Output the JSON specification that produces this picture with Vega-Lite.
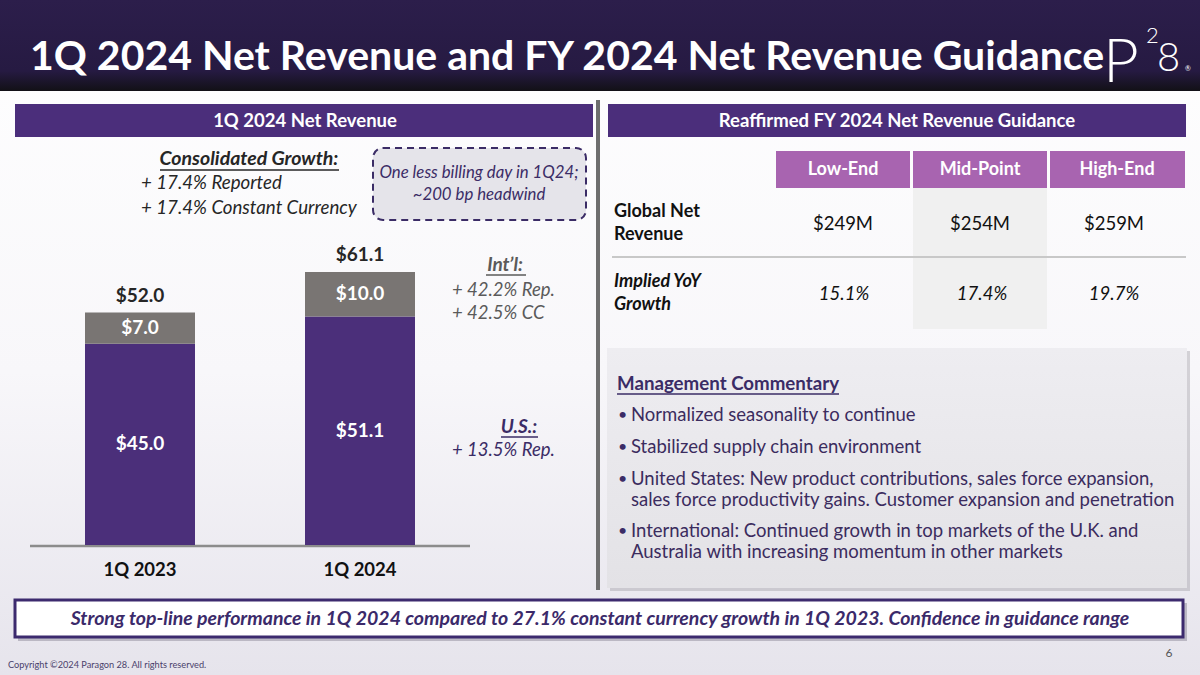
{
  "$schema": "https://vega.github.io/schema/vega-lite/v6.json",
  "width": 1200,
  "height": 675,
  "autosize": {"type": "fit", "contains": "padding"},
  "padding": 0,
  "background": "#ffffff",
  "config": {"view": {"stroke": null}, "font": "Lato"},
  "data": {"values": [{}]},
  "resolve": {"scale": {"x": "independent", "y": "independent", "color": "independent"}},
  "layer": [
    {
      "layer": [
        {"mark": {"type": "rect", "color": {"gradient": "linear", "x1": 0, "y1": 0, "x2": 0, "y2": 1, "stops": [{"offset": 0, "color": "#ffffff"}, {"offset": 0.55, "color": "#f8f7fa"}, {"offset": 1, "color": "#e6e4ec"}]}},
         "encoding": {"x": {"datum": 0, "type": "quantitative", "scale": {"domain": [0, 1200], "nice": false, "zero": false}, "axis": null}, "x2": {"datum": 1200}, "y": {"datum": 0, "type": "quantitative", "scale": {"domain": [0, 675], "nice": false, "zero": false, "reverse": true}, "axis": null}, "y2": {"datum": 675}}},
        {"mark": {"type": "rect", "color": {"gradient": "linear", "x1": 0, "y1": 0, "x2": 0, "y2": 1, "stops": [{"offset": 0, "color": "#2c1e4b"}, {"offset": 0.78, "color": "#261a42"}, {"offset": 1, "color": "#121016"}]}},
         "encoding": {"x": {"datum": 0, "type": "quantitative", "scale": {"domain": [0, 1200], "nice": false, "zero": false}, "axis": null}, "x2": {"datum": 1200}, "y": {"datum": 0, "type": "quantitative", "scale": {"domain": [0, 675], "nice": false, "zero": false, "reverse": true}, "axis": null}, "y2": {"datum": 91}}},
        {"mark": {"type": "text", "text": "1Q 2024 Net Revenue and FY 2024 Net Revenue Guidance", "font": "Lato", "fontSize": 41, "fontWeight": "bold", "color": "#ffffff", "align": "left", "baseline": "alphabetic"},
         "encoding": {"x": {"datum": 30, "type": "quantitative", "scale": {"domain": [0, 1200], "nice": false, "zero": false}, "axis": null}, "y": {"datum": 70, "type": "quantitative", "scale": {"domain": [0, 675], "nice": false, "zero": false, "reverse": true}, "axis": null}}},
        {"mark": {"type": "text", "text": "P", "font": "Lato", "fontSize": 62, "fontWeight": 300, "color": "#ffffff", "align": "left", "baseline": "alphabetic"},
         "encoding": {"x": {"datum": 1103, "type": "quantitative", "scale": {"domain": [0, 1200], "nice": false, "zero": false}, "axis": null}, "y": {"datum": 82, "type": "quantitative", "scale": {"domain": [0, 675], "nice": false, "zero": false, "reverse": true}, "axis": null}}},
        {"mark": {"type": "text", "text": "2", "font": "Lato", "fontSize": 22, "fontWeight": 300, "color": "#ffffff", "align": "left", "baseline": "alphabetic"},
         "encoding": {"x": {"datum": 1146, "type": "quantitative", "scale": {"domain": [0, 1200], "nice": false, "zero": false}, "axis": null}, "y": {"datum": 43, "type": "quantitative", "scale": {"domain": [0, 675], "nice": false, "zero": false, "reverse": true}, "axis": null}}},
        {"mark": {"type": "text", "text": "8", "font": "Lato", "fontSize": 40, "fontWeight": 300, "color": "#ffffff", "align": "left", "baseline": "alphabetic"},
         "encoding": {"x": {"datum": 1157, "type": "quantitative", "scale": {"domain": [0, 1200], "nice": false, "zero": false}, "axis": null}, "y": {"datum": 71, "type": "quantitative", "scale": {"domain": [0, 675], "nice": false, "zero": false, "reverse": true}, "axis": null}}},
        {"mark": {"type": "text", "text": "®", "font": "Lato", "fontSize": 7, "color": "#ffffff", "align": "left", "baseline": "alphabetic"},
         "encoding": {"x": {"datum": 1185, "type": "quantitative", "scale": {"domain": [0, 1200], "nice": false, "zero": false}, "axis": null}, "y": {"datum": 71, "type": "quantitative", "scale": {"domain": [0, 675], "nice": false, "zero": false, "reverse": true}, "axis": null}}},

        {"mark": {"type": "rect", "color": "#4b2e7b"},
         "encoding": {"x": {"datum": 15, "type": "quantitative", "scale": {"domain": [0, 1200], "nice": false, "zero": false}, "axis": null}, "x2": {"datum": 593}, "y": {"datum": 104, "type": "quantitative", "scale": {"domain": [0, 675], "nice": false, "zero": false, "reverse": true}, "axis": null}, "y2": {"datum": 137}}},
        {"mark": {"type": "rect", "color": "#4b2e7b"},
         "encoding": {"x": {"datum": 608, "type": "quantitative", "scale": {"domain": [0, 1200], "nice": false, "zero": false}, "axis": null}, "x2": {"datum": 1186}, "y": {"datum": 104, "type": "quantitative", "scale": {"domain": [0, 675], "nice": false, "zero": false, "reverse": true}, "axis": null}, "y2": {"datum": 137}}},
        {"mark": {"type": "text", "text": "1Q 2024 Net Revenue", "font": "Lato", "fontSize": 18.5, "fontWeight": "bold", "color": "#ffffff", "align": "center", "baseline": "middle"},
         "encoding": {"x": {"datum": 305, "type": "quantitative", "scale": {"domain": [0, 1200], "nice": false, "zero": false}, "axis": null}, "y": {"datum": 121, "type": "quantitative", "scale": {"domain": [0, 675], "nice": false, "zero": false, "reverse": true}, "axis": null}}},
        {"mark": {"type": "text", "text": "Reaffirmed FY 2024 Net Revenue Guidance", "font": "Lato", "fontSize": 18.5, "fontWeight": "bold", "color": "#ffffff", "align": "center", "baseline": "middle"},
         "encoding": {"x": {"datum": 897, "type": "quantitative", "scale": {"domain": [0, 1200], "nice": false, "zero": false}, "axis": null}, "y": {"datum": 121, "type": "quantitative", "scale": {"domain": [0, 675], "nice": false, "zero": false, "reverse": true}, "axis": null}}},
        {"mark": {"type": "rule", "color": "#6e6e6e", "strokeWidth": 4},
         "encoding": {"x": {"datum": 598, "type": "quantitative", "scale": {"domain": [0, 1200], "nice": false, "zero": false}, "axis": null}, "y": {"datum": 100, "type": "quantitative", "scale": {"domain": [0, 675], "nice": false, "zero": false, "reverse": true}, "axis": null}, "y2": {"datum": 590}}},

        {"mark": {"type": "text", "text": "Consolidated Growth:", "font": "Lato", "fontSize": 19.5, "fontWeight": "bold", "fontStyle": "italic", "color": "#262626", "align": "center", "baseline": "middle"},
         "encoding": {"x": {"datum": 249, "type": "quantitative", "scale": {"domain": [0, 1200], "nice": false, "zero": false}, "axis": null}, "y": {"datum": 159, "type": "quantitative", "scale": {"domain": [0, 675], "nice": false, "zero": false, "reverse": true}, "axis": null}}},
        {"mark": {"type": "rule", "color": "#262626", "strokeWidth": 1.5},
         "encoding": {"x": {"datum": 160, "type": "quantitative", "scale": {"domain": [0, 1200], "nice": false, "zero": false}, "axis": null}, "x2": {"datum": 339}, "y": {"datum": 170, "type": "quantitative", "scale": {"domain": [0, 675], "nice": false, "zero": false, "reverse": true}, "axis": null}}},
        {"mark": {"type": "text", "text": ["+ 17.4% Reported", "+ 17.4% Constant Currency"], "lineHeight": 25, "font": "Lato", "fontSize": 18.7, "fontStyle": "italic", "color": "#262626", "align": "left", "baseline": "middle"},
         "encoding": {"x": {"datum": 141, "type": "quantitative", "scale": {"domain": [0, 1200], "nice": false, "zero": false}, "axis": null}, "y": {"datum": 183, "type": "quantitative", "scale": {"domain": [0, 675], "nice": false, "zero": false, "reverse": true}, "axis": null}}},
        {"mark": {"type": "rect", "color": "#e5e4ea", "stroke": "#3b2c66", "strokeWidth": 2, "strokeDash": [7, 5], "cornerRadius": 10},
         "encoding": {"x": {"datum": 373, "type": "quantitative", "scale": {"domain": [0, 1200], "nice": false, "zero": false}, "axis": null}, "x2": {"datum": 586}, "y": {"datum": 148, "type": "quantitative", "scale": {"domain": [0, 675], "nice": false, "zero": false, "reverse": true}, "axis": null}, "y2": {"datum": 220}}},
        {"mark": {"type": "text", "text": ["One less billing day in 1Q24;", "~200 bp headwind"], "lineHeight": 22, "font": "Lato", "fontSize": 16.8, "fontStyle": "italic", "color": "#3b2c66", "align": "center", "baseline": "middle"},
         "encoding": {"x": {"datum": 479, "type": "quantitative", "scale": {"domain": [0, 1200], "nice": false, "zero": false}, "axis": null}, "y": {"datum": 173, "type": "quantitative", "scale": {"domain": [0, 675], "nice": false, "zero": false, "reverse": true}, "axis": null}}},

        {"mark": {"type": "text", "text": "Int’l:", "font": "Lato", "fontSize": 19, "fontWeight": "bold", "fontStyle": "italic", "color": "#5a5a5a", "align": "center", "baseline": "middle"},
         "encoding": {"x": {"datum": 505, "type": "quantitative", "scale": {"domain": [0, 1200], "nice": false, "zero": false}, "axis": null}, "y": {"datum": 265, "type": "quantitative", "scale": {"domain": [0, 675], "nice": false, "zero": false, "reverse": true}, "axis": null}}},
        {"mark": {"type": "rule", "color": "#5a5a5a", "strokeWidth": 1.5},
         "encoding": {"x": {"datum": 486, "type": "quantitative", "scale": {"domain": [0, 1200], "nice": false, "zero": false}, "axis": null}, "x2": {"datum": 526}, "y": {"datum": 275, "type": "quantitative", "scale": {"domain": [0, 675], "nice": false, "zero": false, "reverse": true}, "axis": null}}},
        {"mark": {"type": "text", "text": ["+ 42.2% Rep.", "+ 42.5% CC"], "lineHeight": 23, "font": "Lato", "fontSize": 18.5, "fontStyle": "italic", "color": "#5a5a5a", "align": "left", "baseline": "middle"},
         "encoding": {"x": {"datum": 452, "type": "quantitative", "scale": {"domain": [0, 1200], "nice": false, "zero": false}, "axis": null}, "y": {"datum": 290, "type": "quantitative", "scale": {"domain": [0, 675], "nice": false, "zero": false, "reverse": true}, "axis": null}}},
        {"mark": {"type": "text", "text": "U.S.:", "font": "Lato", "fontSize": 19, "fontWeight": "bold", "fontStyle": "italic", "color": "#3b2c66", "align": "center", "baseline": "middle"},
         "encoding": {"x": {"datum": 519, "type": "quantitative", "scale": {"domain": [0, 1200], "nice": false, "zero": false}, "axis": null}, "y": {"datum": 427, "type": "quantitative", "scale": {"domain": [0, 675], "nice": false, "zero": false, "reverse": true}, "axis": null}}},
        {"mark": {"type": "rule", "color": "#3b2c66", "strokeWidth": 1.5},
         "encoding": {"x": {"datum": 501, "type": "quantitative", "scale": {"domain": [0, 1200], "nice": false, "zero": false}, "axis": null}, "x2": {"datum": 538}, "y": {"datum": 437, "type": "quantitative", "scale": {"domain": [0, 675], "nice": false, "zero": false, "reverse": true}, "axis": null}}},
        {"mark": {"type": "text", "text": "+ 13.5% Rep.", "font": "Lato", "fontSize": 18.5, "fontStyle": "italic", "color": "#3b2c66", "align": "left", "baseline": "middle"},
         "encoding": {"x": {"datum": 452, "type": "quantitative", "scale": {"domain": [0, 1200], "nice": false, "zero": false}, "axis": null}, "y": {"datum": 450, "type": "quantitative", "scale": {"domain": [0, 675], "nice": false, "zero": false, "reverse": true}, "axis": null}}},
        {"mark": {"type": "rule", "color": "#8c8c8c", "strokeWidth": 2.5},
         "encoding": {"x": {"datum": 30, "type": "quantitative", "scale": {"domain": [0, 1200], "nice": false, "zero": false}, "axis": null}, "x2": {"datum": 470}, "y": {"datum": 546, "type": "quantitative", "scale": {"domain": [0, 675], "nice": false, "zero": false, "reverse": true}, "axis": null}}},

        {"mark": {"type": "rect", "color": "#f0f0f0"},
         "encoding": {"x": {"datum": 913, "type": "quantitative", "scale": {"domain": [0, 1200], "nice": false, "zero": false}, "axis": null}, "x2": {"datum": 1047}, "y": {"datum": 188, "type": "quantitative", "scale": {"domain": [0, 675], "nice": false, "zero": false, "reverse": true}, "axis": null}, "y2": {"datum": 329}}},
        {"mark": {"type": "rect", "color": "#a864b0"},
         "encoding": {"x": {"datum": 776, "type": "quantitative", "scale": {"domain": [0, 1200], "nice": false, "zero": false}, "axis": null}, "x2": {"datum": 910}, "y": {"datum": 151, "type": "quantitative", "scale": {"domain": [0, 675], "nice": false, "zero": false, "reverse": true}, "axis": null}, "y2": {"datum": 188}}},
        {"mark": {"type": "rect", "color": "#a864b0"},
         "encoding": {"x": {"datum": 913, "type": "quantitative", "scale": {"domain": [0, 1200], "nice": false, "zero": false}, "axis": null}, "x2": {"datum": 1047}, "y": {"datum": 151, "type": "quantitative", "scale": {"domain": [0, 675], "nice": false, "zero": false, "reverse": true}, "axis": null}, "y2": {"datum": 188}}},
        {"mark": {"type": "rect", "color": "#a864b0"},
         "encoding": {"x": {"datum": 1050, "type": "quantitative", "scale": {"domain": [0, 1200], "nice": false, "zero": false}, "axis": null}, "x2": {"datum": 1185}, "y": {"datum": 151, "type": "quantitative", "scale": {"domain": [0, 675], "nice": false, "zero": false, "reverse": true}, "axis": null}, "y2": {"datum": 188}}},
        {"mark": {"type": "text", "text": "Low-End", "font": "Lato", "fontSize": 18, "fontWeight": "bold", "color": "#ffffff", "align": "center", "baseline": "middle"},
         "encoding": {"x": {"datum": 843, "type": "quantitative", "scale": {"domain": [0, 1200], "nice": false, "zero": false}, "axis": null}, "y": {"datum": 170, "type": "quantitative", "scale": {"domain": [0, 675], "nice": false, "zero": false, "reverse": true}, "axis": null}}},
        {"mark": {"type": "text", "text": "Mid-Point", "font": "Lato", "fontSize": 18, "fontWeight": "bold", "color": "#ffffff", "align": "center", "baseline": "middle"},
         "encoding": {"x": {"datum": 980, "type": "quantitative", "scale": {"domain": [0, 1200], "nice": false, "zero": false}, "axis": null}, "y": {"datum": 170, "type": "quantitative", "scale": {"domain": [0, 675], "nice": false, "zero": false, "reverse": true}, "axis": null}}},
        {"mark": {"type": "text", "text": "High-End", "font": "Lato", "fontSize": 18, "fontWeight": "bold", "color": "#ffffff", "align": "center", "baseline": "middle"},
         "encoding": {"x": {"datum": 1117, "type": "quantitative", "scale": {"domain": [0, 1200], "nice": false, "zero": false}, "axis": null}, "y": {"datum": 170, "type": "quantitative", "scale": {"domain": [0, 675], "nice": false, "zero": false, "reverse": true}, "axis": null}}},
        {"mark": {"type": "text", "text": ["Global Net", "Revenue"], "lineHeight": 23, "font": "Lato", "fontSize": 18, "fontWeight": "bold", "color": "#111111", "align": "left", "baseline": "middle"},
         "encoding": {"x": {"datum": 614, "type": "quantitative", "scale": {"domain": [0, 1200], "nice": false, "zero": false}, "axis": null}, "y": {"datum": 212, "type": "quantitative", "scale": {"domain": [0, 675], "nice": false, "zero": false, "reverse": true}, "axis": null}}},
        {"mark": {"type": "text", "text": ["Implied YoY", "Growth"], "lineHeight": 23, "font": "Lato", "fontSize": 18, "fontWeight": "bold", "fontStyle": "italic", "color": "#111111", "align": "left", "baseline": "middle"},
         "encoding": {"x": {"datum": 614, "type": "quantitative", "scale": {"domain": [0, 1200], "nice": false, "zero": false}, "axis": null}, "y": {"datum": 282, "type": "quantitative", "scale": {"domain": [0, 675], "nice": false, "zero": false, "reverse": true}, "axis": null}}},
        {"mark": {"type": "text", "text": "$249M", "font": "Lato", "fontSize": 18.5, "color": "#111111", "align": "center", "baseline": "middle"},
         "encoding": {"x": {"datum": 843, "type": "quantitative", "scale": {"domain": [0, 1200], "nice": false, "zero": false}, "axis": null}, "y": {"datum": 224, "type": "quantitative", "scale": {"domain": [0, 675], "nice": false, "zero": false, "reverse": true}, "axis": null}}},
        {"mark": {"type": "text", "text": "$254M", "font": "Lato", "fontSize": 18.5, "color": "#111111", "align": "center", "baseline": "middle"},
         "encoding": {"x": {"datum": 980, "type": "quantitative", "scale": {"domain": [0, 1200], "nice": false, "zero": false}, "axis": null}, "y": {"datum": 224, "type": "quantitative", "scale": {"domain": [0, 675], "nice": false, "zero": false, "reverse": true}, "axis": null}}},
        {"mark": {"type": "text", "text": "$259M", "font": "Lato", "fontSize": 18.5, "color": "#111111", "align": "center", "baseline": "middle"},
         "encoding": {"x": {"datum": 1114, "type": "quantitative", "scale": {"domain": [0, 1200], "nice": false, "zero": false}, "axis": null}, "y": {"datum": 224, "type": "quantitative", "scale": {"domain": [0, 675], "nice": false, "zero": false, "reverse": true}, "axis": null}}},
        {"mark": {"type": "text", "text": "15.1%", "font": "Lato", "fontSize": 18.5, "fontStyle": "italic", "color": "#111111", "align": "center", "baseline": "middle"},
         "encoding": {"x": {"datum": 844, "type": "quantitative", "scale": {"domain": [0, 1200], "nice": false, "zero": false}, "axis": null}, "y": {"datum": 294, "type": "quantitative", "scale": {"domain": [0, 675], "nice": false, "zero": false, "reverse": true}, "axis": null}}},
        {"mark": {"type": "text", "text": "17.4%", "font": "Lato", "fontSize": 18.5, "fontStyle": "italic", "color": "#111111", "align": "center", "baseline": "middle"},
         "encoding": {"x": {"datum": 982, "type": "quantitative", "scale": {"domain": [0, 1200], "nice": false, "zero": false}, "axis": null}, "y": {"datum": 294, "type": "quantitative", "scale": {"domain": [0, 675], "nice": false, "zero": false, "reverse": true}, "axis": null}}},
        {"mark": {"type": "text", "text": "19.7%", "font": "Lato", "fontSize": 18.5, "fontStyle": "italic", "color": "#111111", "align": "center", "baseline": "middle"},
         "encoding": {"x": {"datum": 1114, "type": "quantitative", "scale": {"domain": [0, 1200], "nice": false, "zero": false}, "axis": null}, "y": {"datum": 294, "type": "quantitative", "scale": {"domain": [0, 675], "nice": false, "zero": false, "reverse": true}, "axis": null}}},
        {"mark": {"type": "rule", "color": "#c8c8c8", "strokeWidth": 2},
         "encoding": {"x": {"datum": 612, "type": "quantitative", "scale": {"domain": [0, 1200], "nice": false, "zero": false}, "axis": null}, "x2": {"datum": 1186}, "y": {"datum": 257, "type": "quantitative", "scale": {"domain": [0, 675], "nice": false, "zero": false, "reverse": true}, "axis": null}}},

        {"mark": {"type": "rect", "color": "#9a98a0", "opacity": 0.4},
         "encoding": {"x": {"datum": 610, "type": "quantitative", "scale": {"domain": [0, 1200], "nice": false, "zero": false}, "axis": null}, "x2": {"datum": 1190}, "y": {"datum": 351, "type": "quantitative", "scale": {"domain": [0, 675], "nice": false, "zero": false, "reverse": true}, "axis": null}, "y2": {"datum": 591}}},
        {"mark": {"type": "rect", "color": {"gradient": "linear", "x1": 0, "y1": 0, "x2": 0, "y2": 1, "stops": [{"offset": 0, "color": "#eeedf1"}, {"offset": 1, "color": "#e3e2e6"}]}},
         "encoding": {"x": {"datum": 607, "type": "quantitative", "scale": {"domain": [0, 1200], "nice": false, "zero": false}, "axis": null}, "x2": {"datum": 1187}, "y": {"datum": 348, "type": "quantitative", "scale": {"domain": [0, 675], "nice": false, "zero": false, "reverse": true}, "axis": null}, "y2": {"datum": 588}}},
        {"mark": {"type": "text", "text": "Management Commentary", "font": "Lato", "fontSize": 18.7, "fontWeight": "bold", "color": "#3b2c66", "align": "left", "baseline": "middle"},
         "encoding": {"x": {"datum": 617, "type": "quantitative", "scale": {"domain": [0, 1200], "nice": false, "zero": false}, "axis": null}, "y": {"datum": 384, "type": "quantitative", "scale": {"domain": [0, 675], "nice": false, "zero": false, "reverse": true}, "axis": null}}},
        {"mark": {"type": "rule", "color": "#3b2c66", "strokeWidth": 1.5},
         "encoding": {"x": {"datum": 617, "type": "quantitative", "scale": {"domain": [0, 1200], "nice": false, "zero": false}, "axis": null}, "x2": {"datum": 839}, "y": {"datum": 394, "type": "quantitative", "scale": {"domain": [0, 675], "nice": false, "zero": false, "reverse": true}, "axis": null}}},
        {"mark": {"type": "text", "text": "•", "font": "Lato", "fontSize": 16, "color": "#3b2c66", "align": "left", "baseline": "middle"},
         "encoding": {"x": {"datum": 618, "type": "quantitative", "scale": {"domain": [0, 1200], "nice": false, "zero": false}, "axis": null}, "y": {"datum": 415, "type": "quantitative", "scale": {"domain": [0, 675], "nice": false, "zero": false, "reverse": true}, "axis": null}}},
        {"mark": {"type": "text", "text": "•", "font": "Lato", "fontSize": 16, "color": "#3b2c66", "align": "left", "baseline": "middle"},
         "encoding": {"x": {"datum": 618, "type": "quantitative", "scale": {"domain": [0, 1200], "nice": false, "zero": false}, "axis": null}, "y": {"datum": 447, "type": "quantitative", "scale": {"domain": [0, 675], "nice": false, "zero": false, "reverse": true}, "axis": null}}},
        {"mark": {"type": "text", "text": "•", "font": "Lato", "fontSize": 16, "color": "#3b2c66", "align": "left", "baseline": "middle"},
         "encoding": {"x": {"datum": 618, "type": "quantitative", "scale": {"domain": [0, 1200], "nice": false, "zero": false}, "axis": null}, "y": {"datum": 479, "type": "quantitative", "scale": {"domain": [0, 675], "nice": false, "zero": false, "reverse": true}, "axis": null}}},
        {"mark": {"type": "text", "text": "•", "font": "Lato", "fontSize": 16, "color": "#3b2c66", "align": "left", "baseline": "middle"},
         "encoding": {"x": {"datum": 618, "type": "quantitative", "scale": {"domain": [0, 1200], "nice": false, "zero": false}, "axis": null}, "y": {"datum": 531, "type": "quantitative", "scale": {"domain": [0, 675], "nice": false, "zero": false, "reverse": true}, "axis": null}}},
        {"mark": {"type": "text", "text": "Normalized seasonality to continue", "font": "Lato", "fontSize": 18.5, "color": "#3b2c5e", "align": "left", "baseline": "middle"},
         "encoding": {"x": {"datum": 631, "type": "quantitative", "scale": {"domain": [0, 1200], "nice": false, "zero": false}, "axis": null}, "y": {"datum": 415, "type": "quantitative", "scale": {"domain": [0, 675], "nice": false, "zero": false, "reverse": true}, "axis": null}}},
        {"mark": {"type": "text", "text": "Stabilized supply chain environment", "font": "Lato", "fontSize": 18.5, "color": "#3b2c5e", "align": "left", "baseline": "middle"},
         "encoding": {"x": {"datum": 631, "type": "quantitative", "scale": {"domain": [0, 1200], "nice": false, "zero": false}, "axis": null}, "y": {"datum": 447, "type": "quantitative", "scale": {"domain": [0, 675], "nice": false, "zero": false, "reverse": true}, "axis": null}}},
        {"mark": {"type": "text", "text": ["United States: New product contributions, sales force expansion,", "sales force productivity gains. Customer expansion and penetration"], "lineHeight": 21, "font": "Lato", "fontSize": 18.5, "color": "#3b2c5e", "align": "left", "baseline": "middle"},
         "encoding": {"x": {"datum": 631, "type": "quantitative", "scale": {"domain": [0, 1200], "nice": false, "zero": false}, "axis": null}, "y": {"datum": 479, "type": "quantitative", "scale": {"domain": [0, 675], "nice": false, "zero": false, "reverse": true}, "axis": null}}},
        {"mark": {"type": "text", "text": ["International: Continued growth in top markets of the U.K. and", "Australia with increasing momentum in other markets"], "lineHeight": 21, "font": "Lato", "fontSize": 18.5, "color": "#3b2c5e", "align": "left", "baseline": "middle"},
         "encoding": {"x": {"datum": 631, "type": "quantitative", "scale": {"domain": [0, 1200], "nice": false, "zero": false}, "axis": null}, "y": {"datum": 531, "type": "quantitative", "scale": {"domain": [0, 675], "nice": false, "zero": false, "reverse": true}, "axis": null}}},

        {"mark": {"type": "rect", "color": "#8e8a99", "opacity": 0.5},
         "encoding": {"x": {"datum": 18, "type": "quantitative", "scale": {"domain": [0, 1200], "nice": false, "zero": false}, "axis": null}, "x2": {"datum": 1187}, "y": {"datum": 603, "type": "quantitative", "scale": {"domain": [0, 675], "nice": false, "zero": false, "reverse": true}, "axis": null}, "y2": {"datum": 641}}},
        {"mark": {"type": "rect", "color": "#ffffff", "stroke": "#3c2a6e", "strokeWidth": 3},
         "encoding": {"x": {"datum": 15, "type": "quantitative", "scale": {"domain": [0, 1200], "nice": false, "zero": false}, "axis": null}, "x2": {"datum": 1183}, "y": {"datum": 600, "type": "quantitative", "scale": {"domain": [0, 675], "nice": false, "zero": false, "reverse": true}, "axis": null}, "y2": {"datum": 637}}},
        {"mark": {"type": "text", "text": "Strong top-line performance in 1Q 2024 compared to 27.1% constant currency growth in 1Q 2023. Confidence in guidance range", "font": "Lato", "fontSize": 19.5, "fontWeight": "bold", "fontStyle": "italic", "color": "#3b2a6a", "align": "center", "baseline": "middle"},
         "encoding": {"x": {"datum": 600, "type": "quantitative", "scale": {"domain": [0, 1200], "nice": false, "zero": false}, "axis": null}, "y": {"datum": 619, "type": "quantitative", "scale": {"domain": [0, 675], "nice": false, "zero": false, "reverse": true}, "axis": null}}},
        {"mark": {"type": "text", "text": "6", "font": "Lato", "fontSize": 12, "color": "#555555", "align": "center", "baseline": "middle"},
         "encoding": {"x": {"datum": 1169, "type": "quantitative", "scale": {"domain": [0, 1200], "nice": false, "zero": false}, "axis": null}, "y": {"datum": 653, "type": "quantitative", "scale": {"domain": [0, 675], "nice": false, "zero": false, "reverse": true}, "axis": null}}},
        {"mark": {"type": "text", "text": "Copyright ©2024 Paragon 28. All rights reserved.", "font": "Lato", "fontSize": 9.2, "color": "#4a3f6b", "align": "left", "baseline": "middle"},
         "encoding": {"x": {"datum": 8, "type": "quantitative", "scale": {"domain": [0, 1200], "nice": false, "zero": false}, "axis": null}, "y": {"datum": 665, "type": "quantitative", "scale": {"domain": [0, 675], "nice": false, "zero": false, "reverse": true}, "axis": null}}}
      ]
    },
    {
      "data": {"values": [
        {"quarter": "1Q 2023", "region": "U.S.", "revenue": 45.0},
        {"quarter": "1Q 2023", "region": "Int'l", "revenue": 7.0},
        {"quarter": "1Q 2024", "region": "U.S.", "revenue": 51.1},
        {"quarter": "1Q 2024", "region": "Int'l", "revenue": 10.0}
      ]},
      "encoding": {
        "x": {"field": "quarter", "type": "nominal", "sort": ["1Q 2023", "1Q 2024"],
              "scale": {"domain": ["1Q 2023", "1Q 2024"], "range": [30, 470], "paddingInner": 0.5, "paddingOuter": 0.25},
              "axis": null}
      },
      "layer": [
        {"mark": {"type": "bar"},
         "encoding": {
           "y": {"field": "revenue", "type": "quantitative", "stack": "zero", "scale": {"domain": [-29.08, 121.92], "nice": false, "zero": false}, "axis": null},
           "color": {"field": "region", "type": "nominal", "scale": {"domain": ["U.S.", "Int'l"], "range": ["#4b2f7a", "#797573"]}, "legend": null},
           "order": {"field": "region", "sort": "descending"}
         }},
        {"transform": [
           {"stack": "revenue", "groupby": ["quarter"], "sort": [{"field": "region", "order": "descending"}], "as": ["r0", "r1"]},
           {"fold": ["r0", "r1"], "as": ["edge", "pos"]},
           {"aggregate": [{"op": "mean", "field": "pos", "as": "mid"}, {"op": "max", "field": "revenue", "as": "amount"}], "groupby": ["quarter", "region"]}
         ],
         "mark": {"type": "text", "font": "Lato", "fontSize": 19, "fontWeight": "bold", "color": "#ffffff", "baseline": "middle"},
         "encoding": {
           "y": {"field": "mid", "type": "quantitative", "scale": {"domain": [-29.08, 121.92], "nice": false, "zero": false}, "axis": null},
           "text": {"field": "amount", "type": "quantitative", "format": "$.1f"}
         }},
        {"transform": [{"aggregate": [{"op": "sum", "field": "revenue", "as": "total"}], "groupby": ["quarter"]}],
         "mark": {"type": "text", "font": "Lato", "fontSize": 19, "fontWeight": "bold", "color": "#262626", "baseline": "middle", "dy": -17},
         "encoding": {
           "y": {"field": "total", "type": "quantitative", "scale": {"domain": [-29.08, 121.92], "nice": false, "zero": false}, "axis": null},
           "text": {"field": "total", "type": "quantitative", "format": "$.1f"}
         }},
        {"transform": [{"aggregate": [{"op": "count", "as": "n"}], "groupby": ["quarter"]}],
         "mark": {"type": "text", "font": "Lato", "fontSize": 18.5, "fontWeight": "bold", "color": "#111111", "baseline": "middle"},
         "encoding": {
           "y": {"datum": -5.6, "type": "quantitative", "scale": {"domain": [-29.08, 121.92], "nice": false, "zero": false}, "axis": null},
           "text": {"field": "quarter", "type": "nominal"}
         }}
      ]
    }
  ]
}
